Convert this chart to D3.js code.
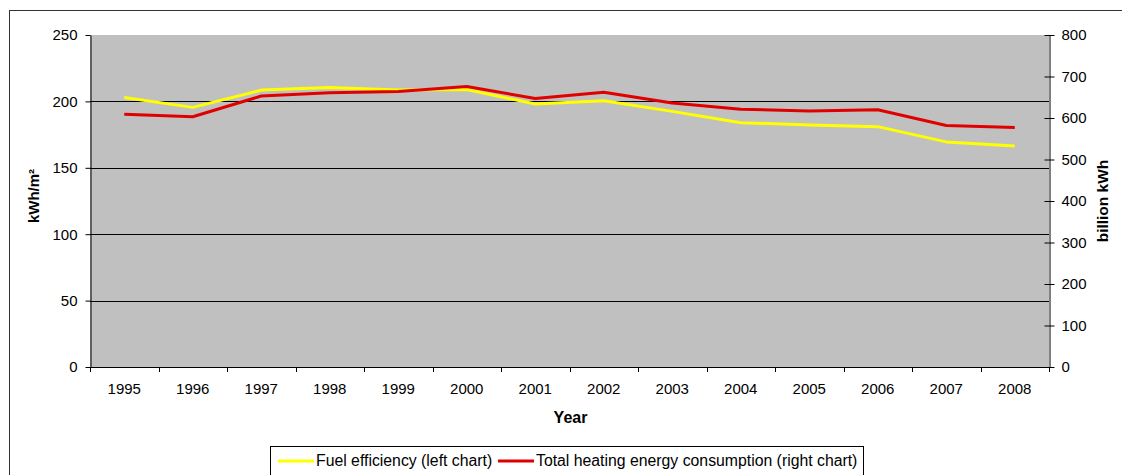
<!DOCTYPE html>
<html>
<head>
<meta charset="utf-8">
<script src="https://cdn.jsdelivr.net/npm/d3@7/dist/d3.min.js"></script>
<style>
  html, body { margin: 0; padding: 0; background: #fff; }
  svg { display: block; font-family: "Liberation Sans", Arial, sans-serif; }
</style>
</head>
<body>
<svg id="chart" width="1122" height="475"></svg>
<script>
// Years on the category axis
const years = ["1995","1996","1997","1998","1999","2000","2001","2002","2003","2004","2005","2006","2007","2008"];
// Fuel efficiency, kWh/m² (left axis)
const fuelEfficiency = [203, 195.5, 208.5, 210.5, 208.5, 209, 198, 200.5, 192.5, 184, 182.3, 181, 169.5, 166.5];
// Total heating energy consumption, billion kWh (right axis)
const totalConsumption = [609, 603, 653, 661, 664, 676, 647, 662, 636, 621, 617, 620, 582, 577];
const leftTicks = [0, 50, 100, 150, 200, 250];
const rightTicks = [0, 100, 200, 300, 400, 500, 600, 700, 800];

const svg = d3.select("#chart");
const plot = { left: 90, top: 35, right: 1049, bottom: 367 };
const FONT = "'Liberation Sans', Arial, sans-serif";

// Outer frame
svg.append("rect").attr("x", 9.5).attr("y", 10.5).attr("width", 1130).attr("height", 480)
  .attr("fill", "none").attr("stroke", "#333").attr("stroke-width", 1);

const x = d3.scaleBand().domain(years).range([plot.left, plot.right]).padding(0);
const yL = d3.scaleLinear().domain([0, 250]).range([plot.bottom, plot.top]);
const yR = d3.scaleLinear().domain([0, 800]).range([plot.bottom, plot.top]);

// Plot background
svg.append("rect").attr("x", plot.left).attr("y", plot.top)
  .attr("width", plot.right - plot.left).attr("height", plot.bottom - plot.top)
  .attr("fill", "#c0c0c0");

// Horizontal gridlines
svg.append("g").selectAll("line").data(leftTicks.filter(d => d > 0 && d < 250)).join("line")
  .attr("x1", plot.left).attr("x2", plot.right)
  .attr("y1", d => Math.round(yL(d)) + 0.5).attr("y2", d => Math.round(yL(d)) + 0.5)
  .attr("stroke", "#000").attr("stroke-width", 1);

// Left axis
const gL = svg.append("g").attr("transform", `translate(${plot.left + 0.5},0)`)
  .call(d3.axisLeft(yL).tickValues(leftTicks).tickSizeInner(5).tickSizeOuter(0).tickPadding(8));
// Right axis (ticks cross the line)
const gR = svg.append("g").attr("transform", `translate(${plot.right + 0.5},0)`)
  .call(d3.axisRight(yR).tickValues(rightTicks).tickSizeInner(5).tickSizeOuter(0).tickPadding(7));
gR.selectAll(".tick line").attr("x1", -5).attr("x2", 5);
// Bottom axis with ticks on category boundaries
const gB = svg.append("g").attr("transform", `translate(0,${plot.bottom + 0.5})`)
  .call(d3.axisBottom(x).tickSize(0).tickPadding(16));
gB.select(".domain").remove();
svg.append("line").attr("x1", plot.left).attr("x2", plot.right)
  .attr("y1", plot.bottom + 0.5).attr("y2", plot.bottom + 0.5).attr("stroke", "#000");
svg.append("g").selectAll("line").data(years.concat(["end"])).join("line")
  .attr("x1", (d, i) => Math.round(plot.left + i * x.bandwidth()) + 0.5)
  .attr("x2", (d, i) => Math.round(plot.left + i * x.bandwidth()) + 0.5)
  .attr("y1", plot.bottom).attr("y2", plot.bottom + 5).attr("stroke", "#000");

[gL, gR, gB].forEach(g => {
  g.selectAll(".domain").attr("stroke", "#000");
  g.selectAll(".tick line").attr("stroke", "#000");
  g.selectAll("text").attr("font-size", 15).attr("fill", "#000").attr("font-family", FONT);
});

// Series lines
const lineL = d3.line().x((d, i) => x(years[i]) + x.bandwidth() / 2).y(d => yL(d));
const lineR = d3.line().x((d, i) => x(years[i]) + x.bandwidth() / 2).y(d => yR(d));
svg.append("path").datum(fuelEfficiency).attr("d", lineL)
  .attr("fill", "none").attr("stroke", "#ffff00").attr("stroke-width", 3).attr("stroke-linejoin", "round");
svg.append("path").datum(totalConsumption).attr("d", lineR)
  .attr("fill", "none").attr("stroke", "#e00000").attr("stroke-width", 3).attr("stroke-linejoin", "round");

// Axis titles
svg.append("text").attr("transform", "translate(39,196) rotate(-90)")
  .attr("text-anchor", "middle").attr("font-size", 15).attr("font-weight", "bold").text("kWh/m²");
svg.append("text").attr("transform", "translate(1108,201) rotate(-90)")
  .attr("text-anchor", "middle").attr("font-size", 15.5).attr("font-weight", "bold").text("billion kWh");
svg.append("text").attr("x", (plot.left + plot.right) / 2 + 1).attr("y", 423)
  .attr("text-anchor", "middle").attr("font-size", 16).attr("font-weight", "bold").text("Year");

// Legend
const lg = svg.append("g");
lg.append("rect").attr("x", 270.5).attr("y", 446.5).attr("width", 593).attr("height", 30)
  .attr("fill", "#fff").attr("stroke", "#000");
const legendItems = [
  { label: "Fuel efficiency (left chart)", color: "#ffff00", x0: 278 },
  { label: "Total heating energy consumption (right chart)", color: "#e00000", x0: 498 }
];
legendItems.forEach(it => {
  lg.append("line").attr("x1", it.x0).attr("x2", it.x0 + 36).attr("y1", 461).attr("y2", 461)
    .attr("stroke", it.color).attr("stroke-width", 3);
  lg.append("text").attr("x", it.x0 + 38).attr("y", 466).attr("font-size", 15.8).text(it.label);
});
</script>
</body>
</html>
